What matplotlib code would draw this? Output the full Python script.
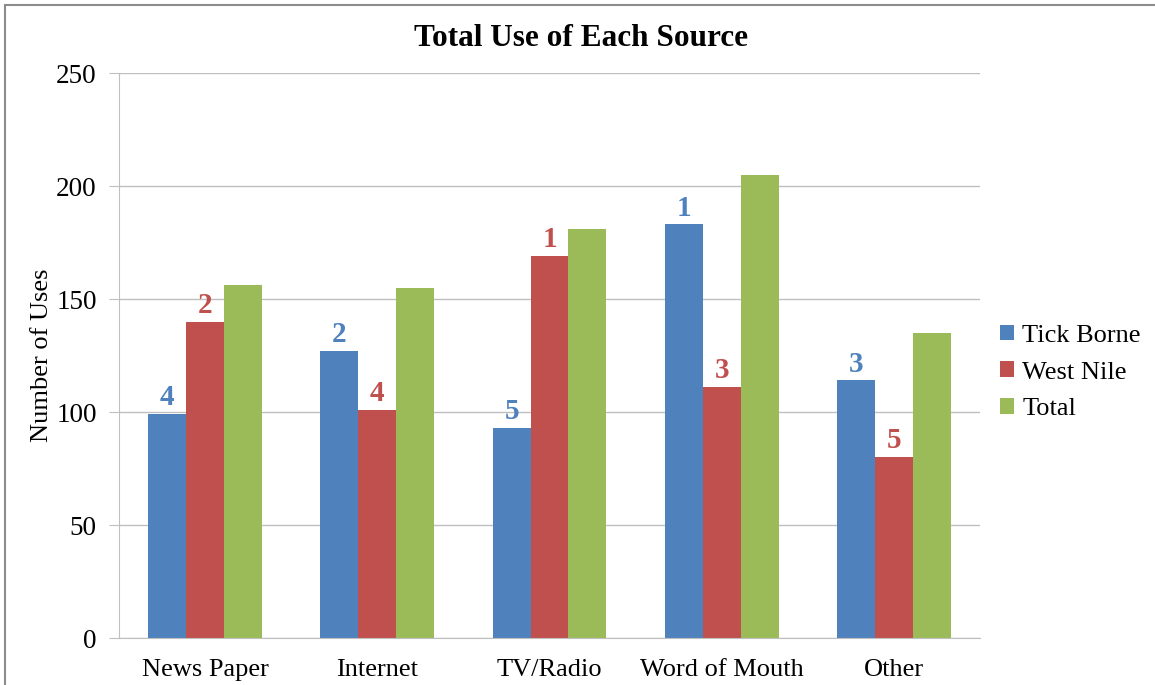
import numpy as np
from matplotlib import pyplot as plt
from matplotlib.patches import Rectangle

plt.rcParams['font.family'] = ['Liberation Serif', 'DejaVu Serif']

sources = ["News Paper", "Internet", "TV/Radio", "Word of Mouth", "Other"]
tick_borne = [99, 127, 93, 183, 114]
west_nile = [140, 101, 169, 111, 80]
total = [156, 155, 181, 205, 135]
# rank of each source within a disease
tick_rank = [4, 2, 5, 1, 3]
nile_rank = [2, 4, 1, 3, 5]

blue = "#4F81BD"
red = "#C0504D"
green = "#9BBB59"

fig = plt.figure(figsize=(11.55, 6.85), dpi=100)
ax = fig.add_axes([0.103, 0.0686, 0.7455, 0.8248])

# grey frame around the whole chart
fig.patches.append(Rectangle((5 / 1155, -0.05), 1.1, 1 - 5 / 685 + 0.05,
                             transform=fig.transFigure, fill=False,
                             edgecolor="#8c8c8c", linewidth=1.5))

x = np.arange(len(sources))
w = 0.22
b1 = ax.bar(x - w, tick_borne, w, color=blue, label="Tick Borne")
b2 = ax.bar(x, west_nile, w, color=red, label="West Nile")
b3 = ax.bar(x + w, total, w, color=green, label="Total")

for bars, ranks, c in [(b1, tick_rank, blue), (b2, nile_rank, red)]:
    for bar, r in zip(bars, ranks):
        ax.annotate(str(r), (bar.get_x() + bar.get_width() / 2, bar.get_height()),
                    xytext=(0, 2), textcoords="offset points",
                    ha="center", va="bottom", fontsize=21, fontweight="bold", color=c)

ax.set_xlim(-0.5, 4.5)
ax.set_ylim(0, 250)
ax.set_yticks(range(0, 251, 50))
ax.set_xticks(x)
ax.set_xticklabels(sources, fontsize=19)
ax.tick_params(axis="y", labelsize=19.5, length=7, color="#bfbfbf", pad=9)
ax.tick_params(axis="x", length=0, pad=15)
ax.yaxis.grid(True, color="#bfbfbf", linewidth=1)
ax.set_axisbelow(True)
for s in ["top", "right"]:
    ax.spines[s].set_visible(False)
ax.spines["left"].set_color("#bfbfbf")
ax.spines["bottom"].set_color("#bfbfbf")

ax.set_ylabel("Number of Uses", fontsize=19, labelpad=2)
fig.text(0.503, 0.944, "Total Use of Each Source", fontsize=22.5, fontweight="bold",
         ha="center", va="center")

ax.legend(loc="center left", bbox_to_anchor=(1.0, 0.47), frameon=False, fontsize=19,
          handlelength=0.55, handleheight=0.55, handletextpad=0.3, labelspacing=0.55,
          borderaxespad=0.35)

plt.savefig("out.png")
